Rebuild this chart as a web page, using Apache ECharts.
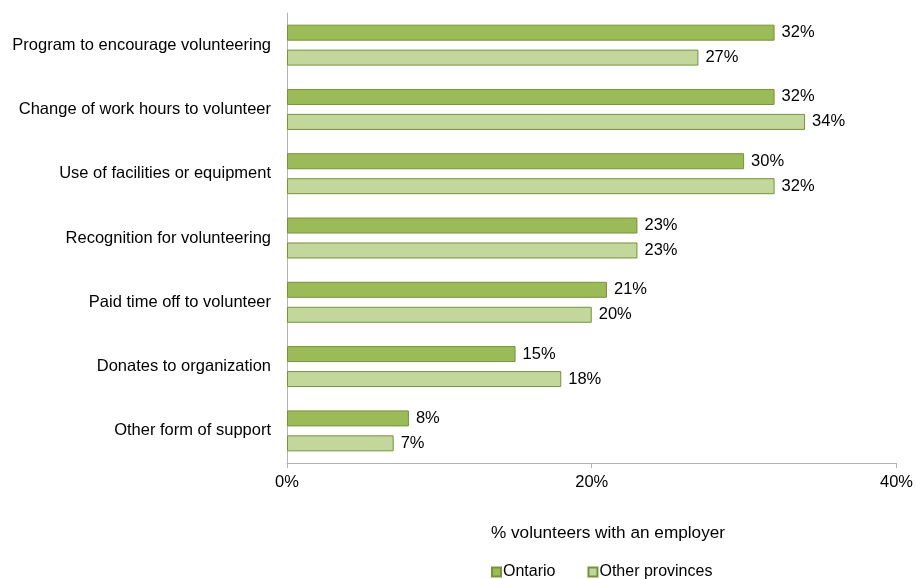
<!DOCTYPE html>
<html><head><meta charset="utf-8">
<script src="https://cdn.jsdelivr.net/npm/echarts@6/dist/echarts.min.js"></script>
<style>html,body{margin:0;padding:0;background:#fff}#c{width:916px;height:579px}</style>
</head><body><div id="c"></div>
<script>
const categories = ["Program to encourage volunteering","Change of work hours to volunteer","Use of facilities or equipment","Recognition for volunteering","Paid time off to volunteer","Donates to organization","Other form of support"];
const ontario = [32,32,30,23,21,15,8];
const otherProvinces = [27,34,32,23,20,18,7];
const xTicks = [0,20,40];
const axisTitle = '% volunteers with an employer';
const font = "'Liberation Sans', Arial, sans-serif";
const chart = echarts.init(document.getElementById('c'));
const lbl = {show:true,position:'right',formatter:p=>p.value+'%',color:'#000',fontFamily:font,fontSize:16.5,distance:7};
chart.setOption({
  animation:false,
  title:{text:axisTitle,left:603,top:520,textAlign:'center',
    textStyle:{fontFamily:font,fontSize:17.2,fontWeight:'normal',color:'#000'}},
  grid:{left:287,right:19,top:13,bottom:116,containLabel:false},
  legend:{top:559,left:486,itemWidth:9,itemHeight:9,itemGap:32,icon:'rect',
    textStyle:{fontFamily:font,fontSize:16,color:'#000',padding:[0,0,0,-3]},
    data:['Ontario','Other provinces']},
  xAxis:{type:'value',min:xTicks[0],max:xTicks[xTicks.length-1],interval:20,
    axisLine:{show:true,lineStyle:{color:'#b3b3b3'}},
    axisTick:{show:true,length:5,lineStyle:{color:'#b3b3b3'}},
    splitLine:{show:false},
    axisLabel:{formatter:'{value}%',fontFamily:font,fontSize:16.5,color:'#000',margin:11}},
  yAxis:{type:'category',inverse:true,data:categories,
    axisLine:{show:true,lineStyle:{color:'#b3b3b3'}},
    axisTick:{show:false},
    axisLabel:{fontFamily:font,fontSize:16.5,color:'#000',margin:16}},
  series:[
    {name:'Ontario',type:'bar',data:ontario,barWidth:16,barGap:'56%',
      itemStyle:{color:'#9BBB59',borderColor:'#76933C',borderWidth:1},label:lbl},
    {name:'Other provinces',type:'bar',data:otherProvinces,barWidth:16,
      itemStyle:{color:'#C3D69B',borderColor:'#76933C',borderWidth:1},label:lbl}
  ]
});
</script></body></html>
